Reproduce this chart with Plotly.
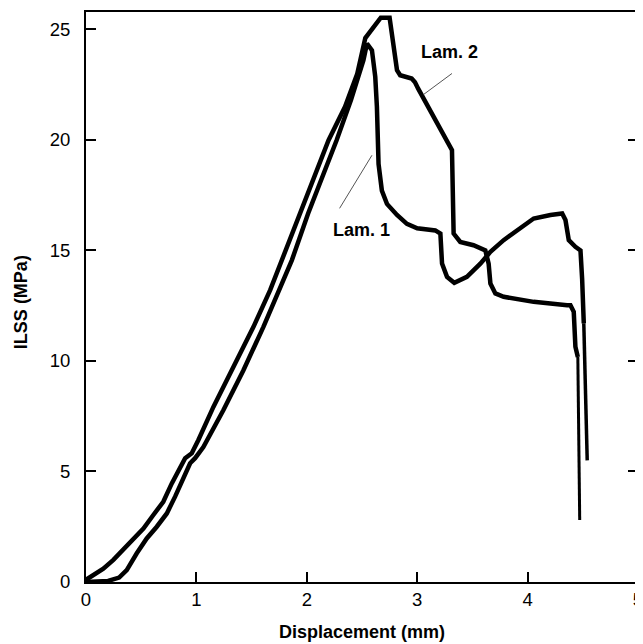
import plotly.graph_objects as go

# Lam. 1 (curve starting around 0.3 mm, peak ~24.3 MPa)
lam1_x = [0.0, 0.20, 0.30, 0.369, 0.46, 0.55, 0.641, 0.732, 0.807, 0.882, 0.943, 0.988, 1.063,
          1.245, 1.426, 1.607, 1.759, 1.865, 2.012, 2.27, 2.40, 2.513, 2.545,
          2.59, 2.62, 2.635, 2.65, 2.68, 2.726, 2.817, 2.907, 3.0, 3.164, 3.21,
          3.225, 3.27, 3.336, 3.45, 3.572, 3.663, 3.783, 3.905, 4.055, 4.207, 4.313,
          4.343, 4.373, 4.433, 4.479, 4.494, 4.509, 4.524, 4.54]
lam1_y = [0.0, 0.05, 0.2, 0.54, 1.3, 1.97, 2.5, 3.1, 3.86, 4.76, 5.37, 5.6, 6.1,
          7.78, 9.58, 11.54, 13.35, 14.56, 16.67, 19.98, 21.8, 23.6, 24.35,
          24.05, 22.85, 21.5, 18.9, 17.7, 17.1, 16.6, 16.2, 16.0, 15.9, 15.76,
          14.4, 13.8, 13.53, 13.8, 14.4, 14.93, 15.46, 15.9, 16.44, 16.6, 16.67,
          16.37, 15.46, 15.16, 15.0, 13.7, 11.7, 9.13, 5.5]

# Lam. 2 (curve starting at 0, peak ~25.5 MPa)
lam2_x = [0.0, 0.066, 0.157, 0.248, 0.338, 0.429, 0.52, 0.61, 0.70, 0.777, 0.852, 0.898, 0.958,
          1.018, 1.154, 1.336, 1.517, 1.668, 1.774, 1.938, 2.197, 2.346, 2.457, 2.53,
          2.60, 2.643, 2.67, 2.75, 2.786, 2.817, 2.846, 2.95, 2.98, 3.01, 3.315,
          3.33, 3.39, 3.51, 3.617, 3.647, 3.663, 3.708, 3.783, 4.055, 4.358, 4.388,
          4.418, 4.433, 4.455, 4.463, 4.472]
lam2_y = [0.1, 0.3, 0.6, 1.0, 1.45, 1.9, 2.42, 3.03, 3.63, 4.46, 5.2, 5.6, 5.82,
          6.42, 7.92, 9.73, 11.54, 13.2, 14.56, 16.67, 19.98, 21.49, 22.99, 24.6,
          25.05, 25.35, 25.52, 25.52, 24.36, 23.15, 22.92, 22.77, 22.6, 22.3, 19.53,
          15.76, 15.38, 15.23, 15.0, 14.4, 13.5, 13.05, 12.9, 12.67, 12.52, 12.52,
          12.22, 10.64, 10.18, 6.1, 2.8]

x_ticks = [0, 1, 2, 3, 4, 5]
y_ticks = [0, 5, 10, 15, 20, 25]
x_range = [0, 5]
y_range = [0, 25.78]

labels = ["Lam. 1", "Lam. 2"]
label_pos = [(2.493, 15.9), (3.29, 23.97)]
pointer_from = [(2.59, 19.3), (3.058, 22.05)]
pointer_to = [(2.297, 16.9), (3.315, 23.0)]

x_title = "Displacement (mm)"
y_title = "ILSS (MPa)"

FONT = "Liberation Sans, Arial"
tail1 = 50  # index where Lam. 1 final drop gets thinner
tail2 = 48  # index where Lam. 2 final drop gets thinner

fig = go.Figure()
fig.add_trace(go.Scatter(x=lam1_x[:tail1 + 1], y=lam1_y[:tail1 + 1], mode="lines",
                         line=dict(color="black", width=4.5), name="Lam. 1"))
fig.add_trace(go.Scatter(x=lam1_x[tail1:], y=lam1_y[tail1:], mode="lines",
                         line=dict(color="black", width=3.5), showlegend=False))
fig.add_trace(go.Scatter(x=lam2_x[:tail2 + 1], y=lam2_y[:tail2 + 1], mode="lines",
                         line=dict(color="black", width=4.5), name="Lam. 2"))
fig.add_trace(go.Scatter(x=lam2_x[tail2:], y=lam2_y[tail2:], mode="lines",
                         line=dict(color="black", width=3), showlegend=False))
# invisible trace on right axis to enable right-side ticks
fig.add_trace(go.Scatter(x=[None], y=[None], yaxis="y2", showlegend=False))

for (a, b), (c, d) in zip(pointer_from, pointer_to):
    fig.add_shape(type="line", x0=a, y0=b, x1=c, y1=d, xref="x", yref="y",
                  line=dict(color="#555555", width=1))
for t, (px, py) in zip(labels, label_pos):
    fig.add_annotation(x=px, y=py, text="<b>" + t + "</b>", showarrow=False,
                       font=dict(family=FONT, size=18, color="black"))

fig.add_annotation(xref="paper", yref="paper", x=0.5, y=0, yanchor="middle",
                   yshift=-50, text="<b>" + x_title + "</b>", showarrow=False,
                   font=dict(family=FONT, size=18, color="black"))
fig.add_annotation(xref="paper", yref="paper", x=0, y=0.491, xanchor="center",
                   xshift=-65, textangle=-90, text="<b>" + y_title + "</b>", showarrow=False,
                   font=dict(family=FONT, size=18, color="black"))

tickfont = dict(family=FONT, size=18.5, color="black")
# page body has an 8px offset, so the figure is sized/margined to compensate
fig.update_layout(
    width=635, height=636,
    margin=dict(l=78, r=5, t=4, b=62, autoexpand=False),
    paper_bgcolor="white", plot_bgcolor="white",
    showlegend=False,
    xaxis=dict(range=x_range, tickvals=x_ticks, ticks="inside", ticklen=10, tickwidth=1.5,
               tickcolor="black", showline=True, linecolor="black", linewidth=2, mirror=True,
               showgrid=False, zeroline=False, tickfont=tickfont, automargin=False,
               ticklabelstandoff=0, ticklabeloverflow="allow"),
    yaxis=dict(range=y_range, tickvals=y_ticks, ticks="inside", ticklen=10, tickwidth=1.5,
               tickcolor="black", showline=True, linecolor="black", linewidth=2, mirror=True,
               showgrid=False, zeroline=False, tickfont=tickfont, ticklabelstandoff=10,
               automargin=False, ticklabeloverflow="allow"),
    yaxis2=dict(range=y_range, tickvals=y_ticks[1:5], ticks="inside", ticklen=10, tickwidth=1.5,
                tickcolor="black", overlaying="y", side="right", showticklabels=False,
                showgrid=False, zeroline=False, showline=False, automargin=False),
)

fig.write_html("out.html")
